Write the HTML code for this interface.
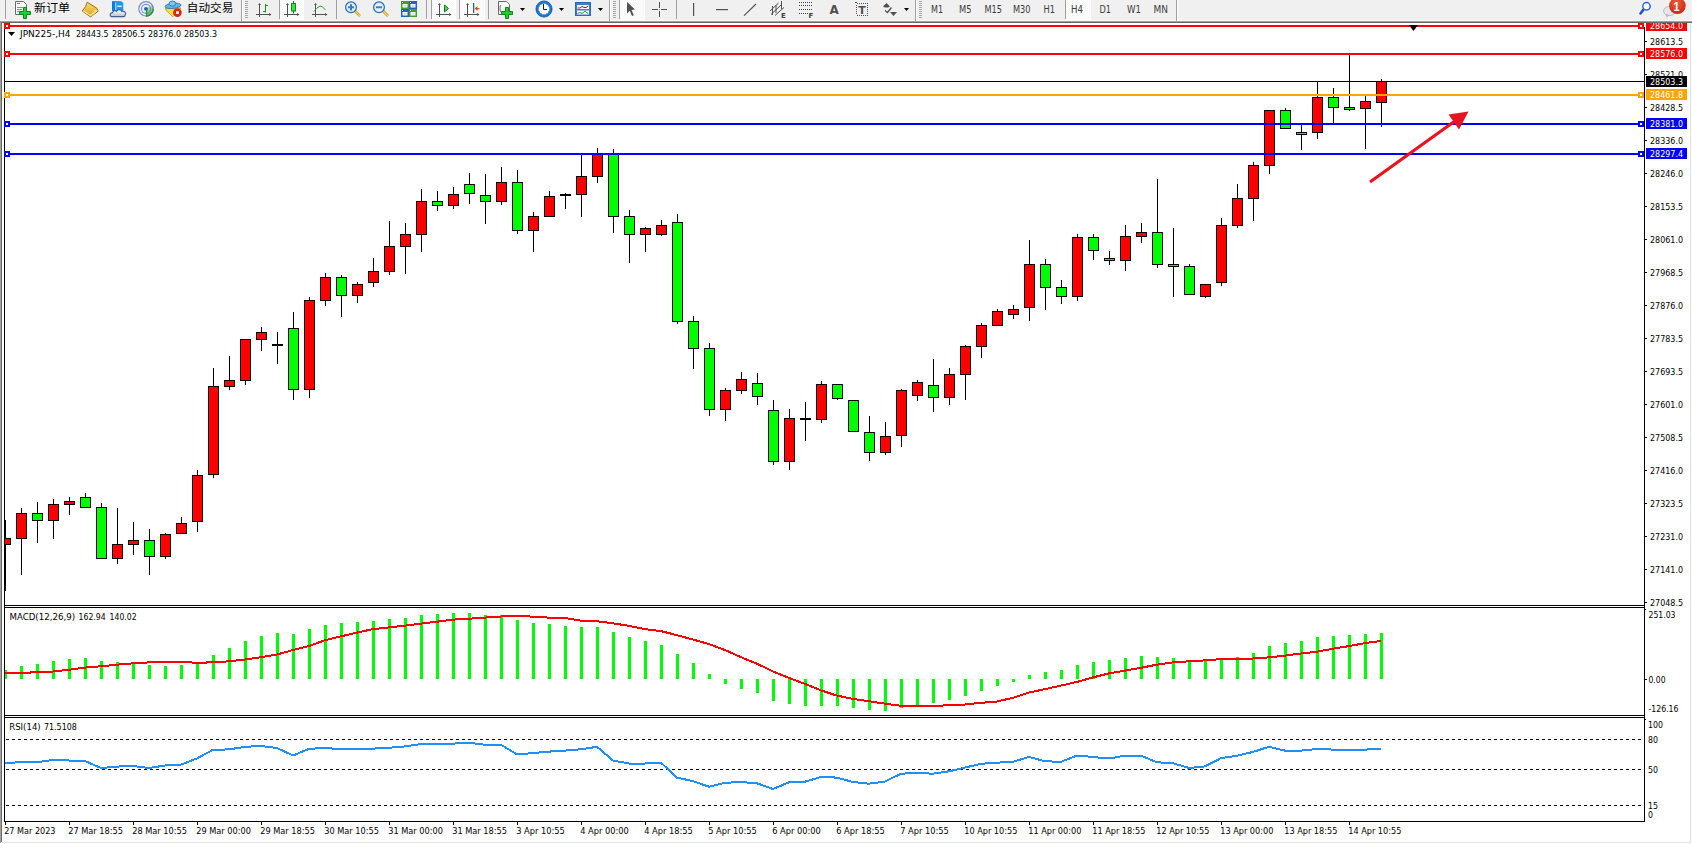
<!DOCTYPE html>
<html><head><meta charset="utf-8"><title>JPN225 H4</title>
<style>html,body{margin:0;padding:0;width:1692px;height:844px;overflow:hidden;background:#f0f0f0}
text{font-family:"DejaVu Sans","Liberation Sans","Noto Sans CJK SC",sans-serif;white-space:pre}</style></head>
<body><svg width="1692" height="844" viewBox="0 0 1692 844" style="display:block"><defs><clipPath id="chartclip"><rect x="0" y="23" width="1692" height="821"/></clipPath></defs>
<rect x="0" y="0" width="1692" height="844" fill="#f0f0f0"/>
<rect x="0" y="20" width="1692" height="1" fill="#f9f9f9"/>
<rect x="0" y="21" width="1692" height="1" fill="#a0a0a0"/>
<rect x="0" y="22" width="1692" height="1" fill="#6a6a6a"/>
<rect x="0" y="23" width="1692" height="821" fill="#fdfdfd"/>
<rect x="0" y="21" width="1" height="822" fill="#a0a0a0"/>
<rect x="1" y="22" width="1" height="820" fill="#6a6a6a"/>
<rect x="2" y="23" width="1688" height="819" fill="#ffffff"/>
<rect x="1690" y="23" width="1" height="820" fill="#e3e3e3"/>
<rect x="2" y="842" width="1689" height="1" fill="#e3e3e3"/>
<rect x="4" y="23" width="1" height="799" fill="#000"/>
<rect x="1644" y="27" width="1" height="795" fill="#000"/>
<rect x="4" y="605" width="1641" height="1" fill="#000"/>
<rect x="4" y="607" width="1641" height="1" fill="#000"/>
<rect x="4" y="715" width="1641" height="1" fill="#000"/>
<rect x="4" y="717" width="1641" height="1" fill="#000"/>
<rect x="4" y="821" width="1641" height="1" fill="#000"/>
<g shape-rendering="crispEdges">
<rect x="5" y="520" width="1" height="71" fill="#000"/>
<rect x="4" y="538" width="7" height="7" fill="#000"/>
<rect x="5" y="539" width="5" height="5" fill="#ff0000"/>
<rect x="21" y="508" width="1" height="67" fill="#000"/>
<rect x="16" y="513" width="11" height="26" fill="#000"/>
<rect x="17" y="514" width="9" height="24" fill="#ff0000"/>
<rect x="37" y="502" width="1" height="41" fill="#000"/>
<rect x="32" y="513" width="11" height="8" fill="#000"/>
<rect x="33" y="514" width="9" height="6" fill="#00ff00"/>
<rect x="53" y="499" width="1" height="40" fill="#000"/>
<rect x="48" y="504" width="11" height="17" fill="#000"/>
<rect x="49" y="505" width="9" height="15" fill="#ff0000"/>
<rect x="69" y="497" width="1" height="18" fill="#000"/>
<rect x="64" y="501" width="11" height="4" fill="#000"/>
<rect x="65" y="502" width="9" height="2" fill="#ff0000"/>
<rect x="85" y="493" width="1" height="14" fill="#000"/>
<rect x="80" y="497" width="11" height="11" fill="#000"/>
<rect x="81" y="498" width="9" height="9" fill="#00ff00"/>
<rect x="101" y="503" width="1" height="55" fill="#000"/>
<rect x="96" y="507" width="11" height="52" fill="#000"/>
<rect x="97" y="508" width="9" height="50" fill="#00ff00"/>
<rect x="117" y="508" width="1" height="56" fill="#000"/>
<rect x="112" y="544" width="11" height="15" fill="#000"/>
<rect x="113" y="545" width="9" height="13" fill="#ff0000"/>
<rect x="133" y="522" width="1" height="33" fill="#000"/>
<rect x="128" y="540" width="11" height="5" fill="#000"/>
<rect x="129" y="541" width="9" height="3" fill="#ff0000"/>
<rect x="149" y="529" width="1" height="46" fill="#000"/>
<rect x="144" y="540" width="11" height="17" fill="#000"/>
<rect x="145" y="541" width="9" height="15" fill="#00ff00"/>
<rect x="165" y="533" width="1" height="26" fill="#000"/>
<rect x="160" y="534" width="11" height="23" fill="#000"/>
<rect x="161" y="535" width="9" height="21" fill="#ff0000"/>
<rect x="181" y="517" width="1" height="17" fill="#000"/>
<rect x="176" y="523" width="11" height="11" fill="#000"/>
<rect x="177" y="524" width="9" height="9" fill="#ff0000"/>
<rect x="197" y="470" width="1" height="62" fill="#000"/>
<rect x="192" y="475" width="11" height="47" fill="#000"/>
<rect x="193" y="476" width="9" height="45" fill="#ff0000"/>
<rect x="213" y="368" width="1" height="110" fill="#000"/>
<rect x="208" y="386" width="11" height="89" fill="#000"/>
<rect x="209" y="387" width="9" height="87" fill="#ff0000"/>
<rect x="229" y="356" width="1" height="34" fill="#000"/>
<rect x="224" y="380" width="11" height="7" fill="#000"/>
<rect x="225" y="381" width="9" height="5" fill="#ff0000"/>
<rect x="245" y="339" width="1" height="46" fill="#000"/>
<rect x="240" y="339" width="11" height="42" fill="#000"/>
<rect x="241" y="340" width="9" height="40" fill="#ff0000"/>
<rect x="261" y="327" width="1" height="24" fill="#000"/>
<rect x="256" y="332" width="11" height="8" fill="#000"/>
<rect x="257" y="333" width="9" height="6" fill="#ff0000"/>
<rect x="277" y="332" width="1" height="32" fill="#000"/>
<rect x="272" y="344" width="11" height="2" fill="#000"/>
<rect x="293" y="312" width="1" height="88" fill="#000"/>
<rect x="288" y="328" width="11" height="62" fill="#000"/>
<rect x="289" y="329" width="9" height="60" fill="#00ff00"/>
<rect x="309" y="297" width="1" height="101" fill="#000"/>
<rect x="304" y="300" width="11" height="90" fill="#000"/>
<rect x="305" y="301" width="9" height="88" fill="#ff0000"/>
<rect x="325" y="273" width="1" height="33" fill="#000"/>
<rect x="320" y="277" width="11" height="24" fill="#000"/>
<rect x="321" y="278" width="9" height="22" fill="#ff0000"/>
<rect x="341" y="275" width="1" height="42" fill="#000"/>
<rect x="336" y="277" width="11" height="19" fill="#000"/>
<rect x="337" y="278" width="9" height="17" fill="#00ff00"/>
<rect x="357" y="282" width="1" height="21" fill="#000"/>
<rect x="352" y="284" width="11" height="12" fill="#000"/>
<rect x="353" y="285" width="9" height="10" fill="#ff0000"/>
<rect x="373" y="258" width="1" height="29" fill="#000"/>
<rect x="368" y="271" width="11" height="12" fill="#000"/>
<rect x="369" y="272" width="9" height="10" fill="#ff0000"/>
<rect x="389" y="221" width="1" height="54" fill="#000"/>
<rect x="384" y="246" width="11" height="26" fill="#000"/>
<rect x="385" y="247" width="9" height="24" fill="#ff0000"/>
<rect x="405" y="223" width="1" height="51" fill="#000"/>
<rect x="400" y="234" width="11" height="13" fill="#000"/>
<rect x="401" y="235" width="9" height="11" fill="#ff0000"/>
<rect x="421" y="189" width="1" height="63" fill="#000"/>
<rect x="416" y="201" width="11" height="34" fill="#000"/>
<rect x="417" y="202" width="9" height="32" fill="#ff0000"/>
<rect x="437" y="191" width="1" height="20" fill="#000"/>
<rect x="432" y="201" width="11" height="5" fill="#000"/>
<rect x="433" y="202" width="9" height="3" fill="#00ff00"/>
<rect x="453" y="187" width="1" height="22" fill="#000"/>
<rect x="448" y="194" width="11" height="12" fill="#000"/>
<rect x="449" y="195" width="9" height="10" fill="#ff0000"/>
<rect x="469" y="173" width="1" height="31" fill="#000"/>
<rect x="464" y="184" width="11" height="10" fill="#000"/>
<rect x="465" y="185" width="9" height="8" fill="#00ff00"/>
<rect x="485" y="174" width="1" height="50" fill="#000"/>
<rect x="480" y="195" width="11" height="7" fill="#000"/>
<rect x="481" y="196" width="9" height="5" fill="#00ff00"/>
<rect x="501" y="167" width="1" height="38" fill="#000"/>
<rect x="496" y="182" width="11" height="20" fill="#000"/>
<rect x="497" y="183" width="9" height="18" fill="#ff0000"/>
<rect x="517" y="170" width="1" height="64" fill="#000"/>
<rect x="512" y="182" width="11" height="49" fill="#000"/>
<rect x="513" y="183" width="9" height="47" fill="#00ff00"/>
<rect x="533" y="212" width="1" height="40" fill="#000"/>
<rect x="528" y="216" width="11" height="15" fill="#000"/>
<rect x="529" y="217" width="9" height="13" fill="#ff0000"/>
<rect x="549" y="191" width="1" height="25" fill="#000"/>
<rect x="544" y="196" width="11" height="21" fill="#000"/>
<rect x="545" y="197" width="9" height="19" fill="#ff0000"/>
<rect x="565" y="193" width="1" height="16" fill="#000"/>
<rect x="560" y="194" width="11" height="2" fill="#000"/>
<rect x="581" y="153" width="1" height="64" fill="#000"/>
<rect x="576" y="176" width="11" height="19" fill="#000"/>
<rect x="577" y="177" width="9" height="17" fill="#ff0000"/>
<rect x="597" y="148" width="1" height="35" fill="#000"/>
<rect x="592" y="153" width="11" height="24" fill="#000"/>
<rect x="593" y="154" width="9" height="22" fill="#ff0000"/>
<rect x="613" y="149" width="1" height="84" fill="#000"/>
<rect x="608" y="153" width="11" height="64" fill="#000"/>
<rect x="609" y="154" width="9" height="62" fill="#00ff00"/>
<rect x="629" y="210" width="1" height="53" fill="#000"/>
<rect x="624" y="216" width="11" height="19" fill="#000"/>
<rect x="625" y="217" width="9" height="17" fill="#00ff00"/>
<rect x="645" y="227" width="1" height="25" fill="#000"/>
<rect x="640" y="228" width="11" height="7" fill="#000"/>
<rect x="641" y="229" width="9" height="5" fill="#ff0000"/>
<rect x="661" y="220" width="1" height="16" fill="#000"/>
<rect x="656" y="225" width="11" height="10" fill="#000"/>
<rect x="657" y="226" width="9" height="8" fill="#ff0000"/>
<rect x="677" y="214" width="1" height="110" fill="#000"/>
<rect x="672" y="222" width="11" height="100" fill="#000"/>
<rect x="673" y="223" width="9" height="98" fill="#00ff00"/>
<rect x="693" y="316" width="1" height="53" fill="#000"/>
<rect x="688" y="321" width="11" height="28" fill="#000"/>
<rect x="689" y="322" width="9" height="26" fill="#00ff00"/>
<rect x="709" y="343" width="1" height="73" fill="#000"/>
<rect x="704" y="348" width="11" height="62" fill="#000"/>
<rect x="705" y="349" width="9" height="60" fill="#00ff00"/>
<rect x="725" y="388" width="1" height="33" fill="#000"/>
<rect x="720" y="390" width="11" height="20" fill="#000"/>
<rect x="721" y="391" width="9" height="18" fill="#ff0000"/>
<rect x="741" y="372" width="1" height="22" fill="#000"/>
<rect x="736" y="379" width="11" height="12" fill="#000"/>
<rect x="737" y="380" width="9" height="10" fill="#ff0000"/>
<rect x="757" y="373" width="1" height="32" fill="#000"/>
<rect x="752" y="383" width="11" height="14" fill="#000"/>
<rect x="753" y="384" width="9" height="12" fill="#00ff00"/>
<rect x="773" y="400" width="1" height="65" fill="#000"/>
<rect x="768" y="410" width="11" height="52" fill="#000"/>
<rect x="769" y="411" width="9" height="50" fill="#00ff00"/>
<rect x="789" y="409" width="1" height="61" fill="#000"/>
<rect x="784" y="418" width="11" height="44" fill="#000"/>
<rect x="785" y="419" width="9" height="42" fill="#ff0000"/>
<rect x="805" y="402" width="1" height="39" fill="#000"/>
<rect x="800" y="418" width="11" height="2" fill="#000"/>
<rect x="821" y="381" width="1" height="42" fill="#000"/>
<rect x="816" y="384" width="11" height="36" fill="#000"/>
<rect x="817" y="385" width="9" height="34" fill="#ff0000"/>
<rect x="837" y="384" width="1" height="16" fill="#000"/>
<rect x="832" y="384" width="11" height="15" fill="#000"/>
<rect x="833" y="385" width="9" height="13" fill="#00ff00"/>
<rect x="853" y="400" width="1" height="31" fill="#000"/>
<rect x="848" y="400" width="11" height="32" fill="#000"/>
<rect x="849" y="401" width="9" height="30" fill="#00ff00"/>
<rect x="869" y="416" width="1" height="45" fill="#000"/>
<rect x="864" y="432" width="11" height="21" fill="#000"/>
<rect x="865" y="433" width="9" height="19" fill="#00ff00"/>
<rect x="885" y="422" width="1" height="33" fill="#000"/>
<rect x="880" y="436" width="11" height="17" fill="#000"/>
<rect x="881" y="437" width="9" height="15" fill="#ff0000"/>
<rect x="901" y="389" width="1" height="58" fill="#000"/>
<rect x="896" y="390" width="11" height="46" fill="#000"/>
<rect x="897" y="391" width="9" height="44" fill="#ff0000"/>
<rect x="917" y="380" width="1" height="21" fill="#000"/>
<rect x="912" y="382" width="11" height="14" fill="#000"/>
<rect x="913" y="383" width="9" height="12" fill="#ff0000"/>
<rect x="933" y="359" width="1" height="53" fill="#000"/>
<rect x="928" y="385" width="11" height="13" fill="#000"/>
<rect x="929" y="386" width="9" height="11" fill="#00ff00"/>
<rect x="949" y="368" width="1" height="37" fill="#000"/>
<rect x="944" y="374" width="11" height="24" fill="#000"/>
<rect x="945" y="375" width="9" height="22" fill="#ff0000"/>
<rect x="965" y="345" width="1" height="55" fill="#000"/>
<rect x="960" y="346" width="11" height="29" fill="#000"/>
<rect x="961" y="347" width="9" height="27" fill="#ff0000"/>
<rect x="981" y="323" width="1" height="35" fill="#000"/>
<rect x="976" y="325" width="11" height="22" fill="#000"/>
<rect x="977" y="326" width="9" height="20" fill="#ff0000"/>
<rect x="997" y="309" width="1" height="16" fill="#000"/>
<rect x="992" y="311" width="11" height="15" fill="#000"/>
<rect x="993" y="312" width="9" height="13" fill="#ff0000"/>
<rect x="1013" y="305" width="1" height="14" fill="#000"/>
<rect x="1008" y="309" width="11" height="6" fill="#000"/>
<rect x="1009" y="310" width="9" height="4" fill="#ff0000"/>
<rect x="1029" y="240" width="1" height="81" fill="#000"/>
<rect x="1024" y="264" width="11" height="44" fill="#000"/>
<rect x="1025" y="265" width="9" height="42" fill="#ff0000"/>
<rect x="1045" y="259" width="1" height="51" fill="#000"/>
<rect x="1040" y="264" width="11" height="24" fill="#000"/>
<rect x="1041" y="265" width="9" height="22" fill="#00ff00"/>
<rect x="1061" y="280" width="1" height="24" fill="#000"/>
<rect x="1056" y="287" width="11" height="10" fill="#000"/>
<rect x="1057" y="288" width="9" height="8" fill="#00ff00"/>
<rect x="1077" y="234" width="1" height="67" fill="#000"/>
<rect x="1072" y="237" width="11" height="60" fill="#000"/>
<rect x="1073" y="238" width="9" height="58" fill="#ff0000"/>
<rect x="1093" y="234" width="1" height="26" fill="#000"/>
<rect x="1088" y="237" width="11" height="14" fill="#000"/>
<rect x="1089" y="238" width="9" height="12" fill="#00ff00"/>
<rect x="1109" y="251" width="1" height="14" fill="#000"/>
<rect x="1104" y="258" width="11" height="3" fill="#000"/>
<rect x="1105" y="259" width="9" height="1" fill="#00ff00"/>
<rect x="1125" y="225" width="1" height="46" fill="#000"/>
<rect x="1120" y="236" width="11" height="25" fill="#000"/>
<rect x="1121" y="237" width="9" height="23" fill="#ff0000"/>
<rect x="1141" y="223" width="1" height="20" fill="#000"/>
<rect x="1136" y="232" width="11" height="5" fill="#000"/>
<rect x="1137" y="233" width="9" height="3" fill="#ff0000"/>
<rect x="1157" y="179" width="1" height="89" fill="#000"/>
<rect x="1152" y="232" width="11" height="33" fill="#000"/>
<rect x="1153" y="233" width="9" height="31" fill="#00ff00"/>
<rect x="1173" y="228" width="1" height="69" fill="#000"/>
<rect x="1168" y="264" width="11" height="3" fill="#000"/>
<rect x="1169" y="265" width="9" height="1" fill="#00ff00"/>
<rect x="1189" y="264" width="1" height="30" fill="#000"/>
<rect x="1184" y="266" width="11" height="29" fill="#000"/>
<rect x="1185" y="267" width="9" height="27" fill="#00ff00"/>
<rect x="1205" y="284" width="1" height="14" fill="#000"/>
<rect x="1200" y="284" width="11" height="13" fill="#000"/>
<rect x="1201" y="285" width="9" height="11" fill="#ff0000"/>
<rect x="1221" y="218" width="1" height="68" fill="#000"/>
<rect x="1216" y="225" width="11" height="58" fill="#000"/>
<rect x="1217" y="226" width="9" height="56" fill="#ff0000"/>
<rect x="1237" y="184" width="1" height="44" fill="#000"/>
<rect x="1232" y="198" width="11" height="28" fill="#000"/>
<rect x="1233" y="199" width="9" height="26" fill="#ff0000"/>
<rect x="1253" y="162" width="1" height="59" fill="#000"/>
<rect x="1248" y="165" width="11" height="34" fill="#000"/>
<rect x="1249" y="166" width="9" height="32" fill="#ff0000"/>
<rect x="1269" y="110" width="1" height="64" fill="#000"/>
<rect x="1264" y="110" width="11" height="56" fill="#000"/>
<rect x="1265" y="111" width="9" height="54" fill="#ff0000"/>
<rect x="1285" y="108" width="1" height="20" fill="#000"/>
<rect x="1280" y="110" width="11" height="19" fill="#000"/>
<rect x="1281" y="111" width="9" height="17" fill="#00ff00"/>
<rect x="1301" y="125" width="1" height="25" fill="#000"/>
<rect x="1296" y="132" width="11" height="3" fill="#000"/>
<rect x="1297" y="133" width="9" height="1" fill="#00ff00"/>
<rect x="1317" y="81" width="1" height="58" fill="#000"/>
<rect x="1312" y="97" width="11" height="36" fill="#000"/>
<rect x="1313" y="98" width="9" height="34" fill="#ff0000"/>
<rect x="1333" y="88" width="1" height="35" fill="#000"/>
<rect x="1328" y="97" width="11" height="11" fill="#000"/>
<rect x="1329" y="98" width="9" height="9" fill="#00ff00"/>
<rect x="1349" y="55" width="1" height="56" fill="#000"/>
<rect x="1344" y="107" width="11" height="3" fill="#000"/>
<rect x="1345" y="108" width="9" height="1" fill="#00ff00"/>
<rect x="1365" y="96" width="1" height="53" fill="#000"/>
<rect x="1360" y="101" width="11" height="8" fill="#000"/>
<rect x="1361" y="102" width="9" height="6" fill="#ff0000"/>
<rect x="1381" y="79" width="1" height="48" fill="#000"/>
<rect x="1376" y="81" width="11" height="22" fill="#000"/>
<rect x="1377" y="82" width="9" height="20" fill="#ff0000"/>
</g>
<rect x="4" y="25" width="1640" height="2" fill="#ff0000"/>
<rect x="4" y="23" width="6" height="6" fill="#ff0000"/>
<rect x="6" y="25" width="2" height="2" fill="#fff"/>
<rect x="1638" y="23" width="6" height="6" fill="#ff0000"/>
<rect x="1640" y="25" width="2" height="2" fill="#fff"/>
<rect x="4" y="53" width="1640" height="2" fill="#ff0000"/>
<rect x="4" y="51" width="6" height="6" fill="#ff0000"/>
<rect x="6" y="53" width="2" height="2" fill="#fff"/>
<rect x="1638" y="51" width="6" height="6" fill="#ff0000"/>
<rect x="1640" y="53" width="2" height="2" fill="#fff"/>
<rect x="5" y="81" width="1639" height="1" fill="#000"/>
<rect x="4" y="94" width="1640" height="2" fill="#ffa500"/>
<rect x="4" y="92" width="6" height="6" fill="#ffa500"/>
<rect x="6" y="94" width="2" height="2" fill="#fff"/>
<rect x="1638" y="92" width="6" height="6" fill="#ffa500"/>
<rect x="1640" y="94" width="2" height="2" fill="#fff"/>
<rect x="4" y="123" width="1640" height="2" fill="#0000ff"/>
<rect x="4" y="121" width="6" height="6" fill="#0000ff"/>
<rect x="6" y="123" width="2" height="2" fill="#fff"/>
<rect x="1638" y="121" width="6" height="6" fill="#0000ff"/>
<rect x="1640" y="123" width="2" height="2" fill="#fff"/>
<rect x="4" y="153" width="1640" height="2" fill="#0000ff"/>
<rect x="4" y="151" width="6" height="6" fill="#0000ff"/>
<rect x="6" y="153" width="2" height="2" fill="#fff"/>
<rect x="1638" y="151" width="6" height="6" fill="#0000ff"/>
<rect x="1640" y="153" width="2" height="2" fill="#fff"/>
<polygon points="1409,25 1418,25 1413.5,31" fill="#000"/>
<line x1="1370" y1="182" x2="1455" y2="121" stroke="#e8141e" stroke-width="3.2"/>
<polygon points="1468.5,111.5 1448.5,114.5 1459,129.5" fill="#e8141e"/>
<polygon points="8,32 15,32 11.5,36" fill="#000"/>
<text x="20" y="37" font-size="9.5" fill="#000" textLength="50.5" lengthAdjust="spacingAndGlyphs">JPN225-,H4</text>
<text x="76" y="37" font-size="9.5" fill="#000" textLength="32.5" lengthAdjust="spacingAndGlyphs">28443.5</text>
<text x="112" y="37" font-size="9.5" fill="#000" textLength="33" lengthAdjust="spacingAndGlyphs">28506.5</text>
<text x="148" y="37" font-size="9.5" fill="#000" textLength="33" lengthAdjust="spacingAndGlyphs">28376.0</text>
<text x="184" y="37" font-size="9.5" fill="#000" textLength="33" lengthAdjust="spacingAndGlyphs">28503.3</text>
<rect x="1645" y="41" width="2" height="1" fill="#000"/>
<text x="1650" y="45" font-size="9.5" fill="#000" textLength="33" lengthAdjust="spacingAndGlyphs">28613.5</text>
<rect x="1645" y="74" width="2" height="1" fill="#000"/>
<text x="1650" y="78" font-size="9.5" fill="#000" textLength="33" lengthAdjust="spacingAndGlyphs">28521.0</text>
<rect x="1645" y="107" width="2" height="1" fill="#000"/>
<text x="1650" y="111" font-size="9.5" fill="#000" textLength="33" lengthAdjust="spacingAndGlyphs">28428.5</text>
<rect x="1645" y="140" width="2" height="1" fill="#000"/>
<text x="1650" y="144" font-size="9.5" fill="#000" textLength="33" lengthAdjust="spacingAndGlyphs">28336.0</text>
<rect x="1645" y="173" width="2" height="1" fill="#000"/>
<text x="1650" y="177" font-size="9.5" fill="#000" textLength="33" lengthAdjust="spacingAndGlyphs">28246.0</text>
<rect x="1645" y="206" width="2" height="1" fill="#000"/>
<text x="1650" y="210" font-size="9.5" fill="#000" textLength="33" lengthAdjust="spacingAndGlyphs">28153.5</text>
<rect x="1645" y="239" width="2" height="1" fill="#000"/>
<text x="1650" y="243" font-size="9.5" fill="#000" textLength="33" lengthAdjust="spacingAndGlyphs">28061.0</text>
<rect x="1645" y="272" width="2" height="1" fill="#000"/>
<text x="1650" y="276" font-size="9.5" fill="#000" textLength="33" lengthAdjust="spacingAndGlyphs">27968.5</text>
<rect x="1645" y="305" width="2" height="1" fill="#000"/>
<text x="1650" y="309" font-size="9.5" fill="#000" textLength="33" lengthAdjust="spacingAndGlyphs">27876.0</text>
<rect x="1645" y="338" width="2" height="1" fill="#000"/>
<text x="1650" y="342" font-size="9.5" fill="#000" textLength="33" lengthAdjust="spacingAndGlyphs">27783.5</text>
<rect x="1645" y="371" width="2" height="1" fill="#000"/>
<text x="1650" y="375" font-size="9.5" fill="#000" textLength="33" lengthAdjust="spacingAndGlyphs">27693.5</text>
<rect x="1645" y="404" width="2" height="1" fill="#000"/>
<text x="1650" y="408" font-size="9.5" fill="#000" textLength="33" lengthAdjust="spacingAndGlyphs">27601.0</text>
<rect x="1645" y="437" width="2" height="1" fill="#000"/>
<text x="1650" y="441" font-size="9.5" fill="#000" textLength="33" lengthAdjust="spacingAndGlyphs">27508.5</text>
<rect x="1645" y="470" width="2" height="1" fill="#000"/>
<text x="1650" y="474" font-size="9.5" fill="#000" textLength="33" lengthAdjust="spacingAndGlyphs">27416.0</text>
<rect x="1645" y="503" width="2" height="1" fill="#000"/>
<text x="1650" y="507" font-size="9.5" fill="#000" textLength="33" lengthAdjust="spacingAndGlyphs">27323.5</text>
<rect x="1645" y="536" width="2" height="1" fill="#000"/>
<text x="1650" y="540" font-size="9.5" fill="#000" textLength="33" lengthAdjust="spacingAndGlyphs">27231.0</text>
<rect x="1645" y="569" width="2" height="1" fill="#000"/>
<text x="1650" y="573" font-size="9.5" fill="#000" textLength="33" lengthAdjust="spacingAndGlyphs">27141.0</text>
<rect x="1645" y="602" width="2" height="1" fill="#000"/>
<text x="1650" y="606" font-size="9.5" fill="#000" textLength="33" lengthAdjust="spacingAndGlyphs">27048.5</text>
<g clip-path="url(#chartclip)">
<rect x="1646" y="23" width="41" height="8" fill="#ff0000"/>
<text x="1650" y="29" font-size="9.5" fill="#fff" textLength="33" lengthAdjust="spacingAndGlyphs">28654.0</text>
</g>
<g clip-path="url(#chartclip)">
<rect x="1646" y="48" width="41" height="11" fill="#ff0000"/>
<text x="1650" y="57" font-size="9.5" fill="#fff" textLength="33" lengthAdjust="spacingAndGlyphs">28576.0</text>
</g>
<g clip-path="url(#chartclip)">
<rect x="1646" y="76" width="41" height="11" fill="#000000"/>
<text x="1650" y="85" font-size="9.5" fill="#fff" textLength="33" lengthAdjust="spacingAndGlyphs">28503.3</text>
</g>
<g clip-path="url(#chartclip)">
<rect x="1646" y="89" width="41" height="11" fill="#ffa500"/>
<text x="1650" y="98" font-size="9.5" fill="#fff" textLength="33" lengthAdjust="spacingAndGlyphs">28461.8</text>
</g>
<g clip-path="url(#chartclip)">
<rect x="1646" y="118" width="41" height="11" fill="#0000ff"/>
<text x="1650" y="127" font-size="9.5" fill="#fff" textLength="33" lengthAdjust="spacingAndGlyphs">28381.0</text>
</g>
<g clip-path="url(#chartclip)">
<rect x="1646" y="148" width="41" height="11" fill="#0000ff"/>
<text x="1650" y="157" font-size="9.5" fill="#fff" textLength="33" lengthAdjust="spacingAndGlyphs">28297.4</text>
</g>
<text x="9.5" y="620.3" font-size="9.5" fill="#000" textLength="65.5" lengthAdjust="spacingAndGlyphs">MACD(12,26,9)</text>
<text x="78.6" y="620.3" font-size="9.5" fill="#000" textLength="27" lengthAdjust="spacingAndGlyphs">162.94</text>
<text x="109.6" y="620.3" font-size="9.5" fill="#000" textLength="27" lengthAdjust="spacingAndGlyphs">140.02</text>
<g shape-rendering="crispEdges">
<rect x="5" y="670" width="2" height="9" fill="#00ff00"/>
<rect x="20" y="666" width="3" height="13" fill="#00ff00"/>
<rect x="36" y="664" width="3" height="15" fill="#00ff00"/>
<rect x="52" y="661" width="3" height="18" fill="#00ff00"/>
<rect x="68" y="659" width="3" height="20" fill="#00ff00"/>
<rect x="84" y="658" width="3" height="21" fill="#00ff00"/>
<rect x="100" y="661" width="3" height="18" fill="#00ff00"/>
<rect x="116" y="662" width="3" height="17" fill="#00ff00"/>
<rect x="132" y="663" width="3" height="16" fill="#00ff00"/>
<rect x="148" y="665" width="3" height="14" fill="#00ff00"/>
<rect x="164" y="666" width="3" height="13" fill="#00ff00"/>
<rect x="180" y="665" width="3" height="14" fill="#00ff00"/>
<rect x="196" y="664" width="3" height="15" fill="#00ff00"/>
<rect x="212" y="655" width="3" height="24" fill="#00ff00"/>
<rect x="228" y="648" width="3" height="31" fill="#00ff00"/>
<rect x="244" y="641" width="3" height="38" fill="#00ff00"/>
<rect x="260" y="636" width="3" height="43" fill="#00ff00"/>
<rect x="276" y="633" width="3" height="46" fill="#00ff00"/>
<rect x="292" y="634" width="3" height="45" fill="#00ff00"/>
<rect x="308" y="629" width="3" height="50" fill="#00ff00"/>
<rect x="324" y="625" width="3" height="54" fill="#00ff00"/>
<rect x="340" y="623" width="3" height="56" fill="#00ff00"/>
<rect x="356" y="622" width="3" height="57" fill="#00ff00"/>
<rect x="372" y="621" width="3" height="58" fill="#00ff00"/>
<rect x="388" y="619" width="3" height="60" fill="#00ff00"/>
<rect x="404" y="618" width="3" height="61" fill="#00ff00"/>
<rect x="420" y="615" width="3" height="64" fill="#00ff00"/>
<rect x="436" y="614" width="3" height="65" fill="#00ff00"/>
<rect x="452" y="613" width="3" height="66" fill="#00ff00"/>
<rect x="468" y="613" width="3" height="66" fill="#00ff00"/>
<rect x="484" y="615" width="3" height="64" fill="#00ff00"/>
<rect x="500" y="615" width="3" height="64" fill="#00ff00"/>
<rect x="516" y="620" width="3" height="59" fill="#00ff00"/>
<rect x="532" y="623" width="3" height="56" fill="#00ff00"/>
<rect x="548" y="624" width="3" height="55" fill="#00ff00"/>
<rect x="564" y="626" width="3" height="53" fill="#00ff00"/>
<rect x="580" y="627" width="3" height="52" fill="#00ff00"/>
<rect x="596" y="627" width="3" height="52" fill="#00ff00"/>
<rect x="612" y="632" width="3" height="47" fill="#00ff00"/>
<rect x="628" y="637" width="3" height="42" fill="#00ff00"/>
<rect x="644" y="641" width="3" height="38" fill="#00ff00"/>
<rect x="660" y="645" width="3" height="34" fill="#00ff00"/>
<rect x="676" y="654" width="3" height="25" fill="#00ff00"/>
<rect x="692" y="663" width="3" height="16" fill="#00ff00"/>
<rect x="708" y="674" width="3" height="5" fill="#00ff00"/>
<rect x="724" y="679" width="3" height="5" fill="#00ff00"/>
<rect x="740" y="679" width="3" height="10" fill="#00ff00"/>
<rect x="756" y="679" width="3" height="14" fill="#00ff00"/>
<rect x="772" y="679" width="3" height="22" fill="#00ff00"/>
<rect x="788" y="679" width="3" height="25" fill="#00ff00"/>
<rect x="804" y="679" width="3" height="27" fill="#00ff00"/>
<rect x="820" y="679" width="3" height="27" fill="#00ff00"/>
<rect x="836" y="679" width="3" height="27" fill="#00ff00"/>
<rect x="852" y="679" width="3" height="29" fill="#00ff00"/>
<rect x="868" y="679" width="3" height="31" fill="#00ff00"/>
<rect x="884" y="679" width="3" height="32" fill="#00ff00"/>
<rect x="900" y="679" width="3" height="29" fill="#00ff00"/>
<rect x="916" y="679" width="3" height="27" fill="#00ff00"/>
<rect x="932" y="679" width="3" height="24" fill="#00ff00"/>
<rect x="948" y="679" width="3" height="21" fill="#00ff00"/>
<rect x="964" y="679" width="3" height="17" fill="#00ff00"/>
<rect x="980" y="679" width="3" height="12" fill="#00ff00"/>
<rect x="996" y="679" width="3" height="7" fill="#00ff00"/>
<rect x="1012" y="679" width="3" height="3" fill="#00ff00"/>
<rect x="1028" y="675" width="3" height="4" fill="#00ff00"/>
<rect x="1044" y="672" width="3" height="7" fill="#00ff00"/>
<rect x="1060" y="670" width="3" height="9" fill="#00ff00"/>
<rect x="1076" y="665" width="3" height="14" fill="#00ff00"/>
<rect x="1092" y="662" width="3" height="17" fill="#00ff00"/>
<rect x="1108" y="660" width="3" height="19" fill="#00ff00"/>
<rect x="1124" y="658" width="3" height="21" fill="#00ff00"/>
<rect x="1140" y="656" width="3" height="23" fill="#00ff00"/>
<rect x="1156" y="657" width="3" height="22" fill="#00ff00"/>
<rect x="1172" y="658" width="3" height="21" fill="#00ff00"/>
<rect x="1188" y="661" width="3" height="18" fill="#00ff00"/>
<rect x="1204" y="661" width="3" height="18" fill="#00ff00"/>
<rect x="1220" y="660" width="3" height="19" fill="#00ff00"/>
<rect x="1236" y="657" width="3" height="22" fill="#00ff00"/>
<rect x="1252" y="653" width="3" height="26" fill="#00ff00"/>
<rect x="1268" y="646" width="3" height="33" fill="#00ff00"/>
<rect x="1284" y="643" width="3" height="36" fill="#00ff00"/>
<rect x="1300" y="641" width="3" height="38" fill="#00ff00"/>
<rect x="1316" y="637" width="3" height="42" fill="#00ff00"/>
<rect x="1332" y="636" width="3" height="43" fill="#00ff00"/>
<rect x="1348" y="635" width="3" height="44" fill="#00ff00"/>
<rect x="1364" y="634" width="3" height="45" fill="#00ff00"/>
<rect x="1380" y="633" width="3" height="46" fill="#00ff00"/>
<polyline points="5,672.8 21,672.8 37,672.3 53,671.5 69,669.8 85,667.6 101,666.3 117,664.7 133,663.3 149,662.4 165,661.8 181,661.8 197,662.8 213,662.3 229,661.3 245,659.5 261,657.2 277,654.5 293,650 309,646 325,640.2 341,636.3 357,632.6 373,629.1 389,627.4 405,625.6 421,623.6 437,621.7 453,619.6 469,618.7 485,617.6 501,616.5 517,615.8 533,616.7 549,617.6 565,618 581,620.6 597,621.3 613,623.3 629,625.9 645,629.1 661,631.1 677,635.2 693,639.5 709,644.1 725,650 741,657.2 757,663.7 773,671.5 789,678 805,683.9 821,690.4 837,695.6 853,698.9 869,701.2 885,703.7 901,705.7 917,705.7 933,705.7 949,705.4 965,704.5 981,702.8 997,701.5 1013,697.8 1029,692.6 1045,689.1 1061,685.6 1077,681.9 1093,677.4 1109,673.4 1125,670.6 1141,667.8 1157,664.6 1173,662.4 1189,661.3 1205,660.4 1221,659.1 1237,658.5 1253,658.5 1269,657.4 1285,655.6 1301,653.5 1317,651.7 1333,648.7 1349,646.1 1365,643.1 1381,640.9" fill="none" stroke="#ff0000" stroke-width="2"/>
</g>
<rect x="1645" y="609" width="1" height="1" fill="#000"/>
<rect x="1645" y="679" width="2" height="1" fill="#000"/>
<text x="1648.5" y="618" font-size="9.5" fill="#000" textLength="27" lengthAdjust="spacingAndGlyphs">251.03</text>
<text x="1648.5" y="683" font-size="9.5" fill="#000" textLength="17" lengthAdjust="spacingAndGlyphs">0.00</text>
<text x="1648.5" y="712" font-size="9.5" fill="#000" textLength="30" lengthAdjust="spacingAndGlyphs">-126.16</text>
<text x="9.2" y="730.2" font-size="9.5" fill="#000" textLength="31.5" lengthAdjust="spacingAndGlyphs">RSI(14)</text>
<text x="44" y="730.2" font-size="9.5" fill="#000" textLength="32.8" lengthAdjust="spacingAndGlyphs">71.5108</text>
<line x1="6" y1="739.5" x2="1642" y2="739.5" stroke="#000" stroke-width="1" stroke-dasharray="3,3"/>
<line x1="6" y1="769.5" x2="1642" y2="769.5" stroke="#000" stroke-width="1" stroke-dasharray="3,3"/>
<line x1="6" y1="805.5" x2="1642" y2="805.5" stroke="#000" stroke-width="1" stroke-dasharray="3,3"/>
<g shape-rendering="crispEdges"><polyline points="5,763 21,762.2 37,762.2 53,760 69,760.5 85,761 101,768 117,766.6 133,766 149,768 165,765.5 181,764.6 197,758.4 213,749.8 229,749.4 245,746.8 261,746 277,748 293,755.5 309,748.9 325,747.8 341,749.4 357,748.9 373,748.6 389,747.8 405,746.4 421,744 437,744 453,743.6 469,742.8 485,744.8 501,744.8 517,754.4 533,753.1 549,751.6 565,750.6 581,749.3 597,746.8 613,760.5 629,763.5 645,763.5 661,762.7 677,777.6 693,781.2 709,786.7 725,782.8 741,782 757,783.3 773,789 789,782.3 805,781.7 821,777 837,777.6 853,782 869,783.7 885,781.5 901,773.7 917,772.9 933,773.7 949,771.3 965,767.6 981,763.8 997,762.7 1013,761.8 1029,756.9 1045,761.3 1061,761.8 1077,755.5 1093,757 1109,758.5 1125,755.7 1141,755.7 1157,762.3 1173,763.2 1189,768 1205,766.4 1221,758.1 1237,755.7 1253,751.9 1269,746.8 1285,750.6 1301,750.6 1317,749 1333,749.6 1349,749.6 1365,749.6 1381,748.7" fill="none" stroke="#1e90ff" stroke-width="2"/></g>
<rect x="1645" y="719" width="1" height="1" fill="#000"/>
<text x="1648" y="728" font-size="9.5" fill="#000" textLength="15" lengthAdjust="spacingAndGlyphs">100</text>
<text x="1648" y="743" font-size="9.5" fill="#000" textLength="10" lengthAdjust="spacingAndGlyphs">80</text>
<text x="1648" y="773" font-size="9.5" fill="#000" textLength="10" lengthAdjust="spacingAndGlyphs">50</text>
<text x="1648" y="809" font-size="9.5" fill="#000" textLength="10" lengthAdjust="spacingAndGlyphs">15</text>
<text x="1648" y="818" font-size="9.5" fill="#000" textLength="5" lengthAdjust="spacingAndGlyphs">0</text>
<rect x="5" y="822" width="1" height="3" fill="#000"/>
<text x="4.2" y="834" font-size="9.5" fill="#000" textLength="51.3" lengthAdjust="spacingAndGlyphs">27 Mar 2023</text>
<rect x="69" y="822" width="1" height="3" fill="#000"/>
<text x="68.2" y="834" font-size="9.5" fill="#000" textLength="54.8" lengthAdjust="spacingAndGlyphs">27 Mar 18:55</text>
<rect x="133" y="822" width="1" height="3" fill="#000"/>
<text x="132.2" y="834" font-size="9.5" fill="#000" textLength="54.8" lengthAdjust="spacingAndGlyphs">28 Mar 10:55</text>
<rect x="197" y="822" width="1" height="3" fill="#000"/>
<text x="196.2" y="834" font-size="9.5" fill="#000" textLength="54.8" lengthAdjust="spacingAndGlyphs">29 Mar 00:00</text>
<rect x="261" y="822" width="1" height="3" fill="#000"/>
<text x="260.2" y="834" font-size="9.5" fill="#000" textLength="54.8" lengthAdjust="spacingAndGlyphs">29 Mar 18:55</text>
<rect x="325" y="822" width="1" height="3" fill="#000"/>
<text x="324.2" y="834" font-size="9.5" fill="#000" textLength="54.8" lengthAdjust="spacingAndGlyphs">30 Mar 10:55</text>
<rect x="389" y="822" width="1" height="3" fill="#000"/>
<text x="388.2" y="834" font-size="9.5" fill="#000" textLength="54.8" lengthAdjust="spacingAndGlyphs">31 Mar 00:00</text>
<rect x="453" y="822" width="1" height="3" fill="#000"/>
<text x="452.2" y="834" font-size="9.5" fill="#000" textLength="54.8" lengthAdjust="spacingAndGlyphs">31 Mar 18:55</text>
<rect x="517" y="822" width="1" height="3" fill="#000"/>
<text x="516.2" y="834" font-size="9.5" fill="#000" textLength="48.7" lengthAdjust="spacingAndGlyphs">3 Apr 10:55</text>
<rect x="581" y="822" width="1" height="3" fill="#000"/>
<text x="580.2" y="834" font-size="9.5" fill="#000" textLength="48.7" lengthAdjust="spacingAndGlyphs">4 Apr 00:00</text>
<rect x="645" y="822" width="1" height="3" fill="#000"/>
<text x="644.2" y="834" font-size="9.5" fill="#000" textLength="48.7" lengthAdjust="spacingAndGlyphs">4 Apr 18:55</text>
<rect x="709" y="822" width="1" height="3" fill="#000"/>
<text x="708.2" y="834" font-size="9.5" fill="#000" textLength="48.7" lengthAdjust="spacingAndGlyphs">5 Apr 10:55</text>
<rect x="773" y="822" width="1" height="3" fill="#000"/>
<text x="772.2" y="834" font-size="9.5" fill="#000" textLength="48.7" lengthAdjust="spacingAndGlyphs">6 Apr 00:00</text>
<rect x="837" y="822" width="1" height="3" fill="#000"/>
<text x="836.2" y="834" font-size="9.5" fill="#000" textLength="48.7" lengthAdjust="spacingAndGlyphs">6 Apr 18:55</text>
<rect x="901" y="822" width="1" height="3" fill="#000"/>
<text x="900.2" y="834" font-size="9.5" fill="#000" textLength="48.7" lengthAdjust="spacingAndGlyphs">7 Apr 10:55</text>
<rect x="965" y="822" width="1" height="3" fill="#000"/>
<text x="964.2" y="834" font-size="9.5" fill="#000" textLength="53.2" lengthAdjust="spacingAndGlyphs">10 Apr 10:55</text>
<rect x="1029" y="822" width="1" height="3" fill="#000"/>
<text x="1028.2" y="834" font-size="9.5" fill="#000" textLength="53.2" lengthAdjust="spacingAndGlyphs">11 Apr 00:00</text>
<rect x="1093" y="822" width="1" height="3" fill="#000"/>
<text x="1092.2" y="834" font-size="9.5" fill="#000" textLength="53.2" lengthAdjust="spacingAndGlyphs">11 Apr 18:55</text>
<rect x="1157" y="822" width="1" height="3" fill="#000"/>
<text x="1156.2" y="834" font-size="9.5" fill="#000" textLength="53.2" lengthAdjust="spacingAndGlyphs">12 Apr 10:55</text>
<rect x="1221" y="822" width="1" height="3" fill="#000"/>
<text x="1220.2" y="834" font-size="9.5" fill="#000" textLength="53.2" lengthAdjust="spacingAndGlyphs">13 Apr 00:00</text>
<rect x="1285" y="822" width="1" height="3" fill="#000"/>
<text x="1284.2" y="834" font-size="9.5" fill="#000" textLength="53.2" lengthAdjust="spacingAndGlyphs">13 Apr 18:55</text>
<rect x="1349" y="822" width="1" height="3" fill="#000"/>
<text x="1348.2" y="834" font-size="9.5" fill="#000" textLength="53.2" lengthAdjust="spacingAndGlyphs">14 Apr 10:55</text>
<defs><pattern id="chk" width="2" height="2" patternUnits="userSpaceOnUse"><rect width="2" height="2" fill="#f7f7f7"/><rect width="1" height="1" fill="#ffffff"/><rect x="1" y="1" width="1" height="1" fill="#ffffff"/></pattern><linearGradient id="gold" x1="0" y1="0" x2="0" y2="1"><stop offset="0" stop-color="#f8e070"/><stop offset="1" stop-color="#d8a018"/></linearGradient><linearGradient id="blu" x1="0" y1="0" x2="0" y2="1"><stop offset="0" stop-color="#40a8f0"/><stop offset="1" stop-color="#0868d0"/></linearGradient><linearGradient id="cloud" x1="0" y1="0" x2="0" y2="1"><stop offset="0" stop-color="#ffffff"/><stop offset="1" stop-color="#b4c2d8"/></linearGradient><linearGradient id="sweep" x1="0" y1="0" x2="0.3" y2="1"><stop offset="0" stop-color="#e0f0e0"/><stop offset="1" stop-color="#58b058"/></linearGradient><radialGradient id="lens"><stop offset="0" stop-color="#ffffff"/><stop offset="1" stop-color="#c8e4f8"/></radialGradient><radialGradient id="badge" cx="0.45" cy="0.35" r="0.7"><stop offset="0" stop-color="#f06040"/><stop offset="1" stop-color="#c82010"/></radialGradient></defs>
<rect x="5" y="0" width="1" height="19" fill="#a0a0a0"/>
<path d="M15.5,1.5 h8 l3,3 v10 h-11 z" fill="#fafafa" stroke="#6a6a6a" stroke-width="1"/>
<rect x="17" y="3" width="3" height="1" fill="#808080"/>
<rect x="17" y="7" width="6" height="1" fill="#909090"/>
<rect x="17" y="9" width="5" height="1" fill="#909090"/>
<rect x="17" y="11" width="3" height="1" fill="#909090"/>
<path d="M23.5,7.5 h3 v4 h4 v3 h-4 v4 h-3 v-4 h-4 v-3 h4 z" fill="#20d030" stroke="#108818" stroke-width="1"/>
<text x="34" y="12.4" font-size="11.6" fill="#000" style="font-family:'Liberation Sans','Noto Sans CJK SC',sans-serif" textLength="36.2" lengthAdjust="spacingAndGlyphs">新订单</text>
<path d="M87.2,2.2 L96.8,8.2 L98.2,11.2 L90.6,16.9 L82.2,11 L85.6,6.6 Z" fill="url(#gold)" stroke="#a8680c" stroke-width="1"/>
<path d="M83.2,10.8 L90.4,15.6 L96.6,9.8" fill="none" stroke="#f8e8a0" stroke-width="1.2"/>
<path d="M91.5,15.8 L97.4,10.6" fill="none" stroke="#e8dca8" stroke-width="1"/>
<polygon points="112,1 121.5,1.6 123.3,3 123.3,11 112,11" fill="#1a9af2"/>
<rect x="112" y="1.5" width="3.5" height="9.5" fill="#0a7ce2"/>
<rect x="115.3" y="2.6" width="0.9" height="8" fill="#d8f0ff"/>
<rect x="112.3" y="1.2" width="9" height="0.8" fill="#3a8ae0"/>
<rect x="117.2" y="5.6" width="4.6" height="1.3" fill="#e8f6ff"/>
<path d="M111.2,16.6 C109.6,16.2 109.8,12.6 112.6,12.6 C113,10.6 115.6,10.2 116.6,11.2 C117.4,9.2 121,9 121.8,11.4 C124.6,10.6 126.6,13 125.2,15.2 C125,16.4 124.2,16.6 123.6,16.6 Z" fill="url(#cloud)" stroke="#3e5c92" stroke-width="1.1"/>
<path d="M146,8.8 L152.5,4.3 A7.9,7.9 0 0 1 146,16.7 Z" fill="url(#sweep)"/>
<circle cx="146" cy="8.8" r="7.2" fill="none" stroke="#4a74cc" stroke-width="1.2" stroke-opacity="0.75"/>
<circle cx="146" cy="8.8" r="4.5" fill="none" stroke="#4a74cc" stroke-width="1.2" stroke-opacity="0.7"/>
<path d="M153.2,8.8 A7.2,7.2 0 0 1 146,16" fill="none" stroke="#2c8c40" stroke-width="1.2"/>
<circle cx="146" cy="8.8" r="1.9" fill="#2454c8"/>
<rect x="145.9" y="9" width="1.2" height="7.8" fill="#18a018"/>
<polygon points="165.5,8 181,8 176.5,13 172.8,16.8 166,10.2" fill="#f4dc50" stroke="#c89a18" stroke-width="0.9"/>
<ellipse cx="173" cy="5.8" rx="8" ry="2.6" fill="#62b4e4" stroke="#2a7ab0" stroke-width="0.9" transform="rotate(-6 173 5.8)"/>
<ellipse cx="172.4" cy="3.6" rx="3.4" ry="2.6" fill="#7cc4ec" stroke="#2a7ab0" stroke-width="0.9"/>
<circle cx="177.4" cy="12.6" r="4.3" fill="#d42810"/>
<rect x="176.1" y="11.2" width="2.8" height="2.8" fill="#ffffff"/>
<text x="186.8" y="12.4" font-size="11.6" fill="#000" style="font-family:'Liberation Sans','Noto Sans CJK SC',sans-serif" textLength="46.5" lengthAdjust="spacingAndGlyphs">自动交易</text>
<rect x="241" y="0" width="1" height="21" fill="#a0a0a0"/>
<rect x="242" y="0" width="1" height="21" fill="#ffffff"/>
<rect x="245" y="1" width="3" height="1" fill="#a8a8a8"/>
<rect x="245" y="3" width="3" height="1" fill="#a8a8a8"/>
<rect x="245" y="5" width="3" height="1" fill="#a8a8a8"/>
<rect x="245" y="7" width="3" height="1" fill="#a8a8a8"/>
<rect x="245" y="9" width="3" height="1" fill="#a8a8a8"/>
<rect x="245" y="11" width="3" height="1" fill="#a8a8a8"/>
<rect x="245" y="13" width="3" height="1" fill="#a8a8a8"/>
<rect x="245" y="15" width="3" height="1" fill="#a8a8a8"/>
<rect x="245" y="17" width="3" height="1" fill="#a8a8a8"/>
<g stroke="#505050" stroke-width="1" fill="none"><line x1="259.5" y1="4" x2="259.5" y2="17"/><line x1="256" y1="14.5" x2="270" y2="14.5"/></g>
<polygon points="258,5 261,5 259.5,3" fill="#505050"/>
<polygon points="269,13 269,16 271.5,14.5" fill="#505050"/>
<g stroke="#10a010" stroke-width="1"><line x1="265.5" y1="4" x2="265.5" y2="12.5"/><line x1="265" y1="5.5" x2="268" y2="5.5"/><line x1="263" y1="11.5" x2="266" y2="11.5"/></g>
<rect x="279" y="0" width="1" height="19" fill="#a0a0a0"/>
<rect x="280" y="0" width="23" height="19" fill="url(#chk)"/>
<rect x="280" y="19" width="24" height="1" fill="#ffffff"/>
<rect x="303" y="0" width="1" height="19" fill="#ffffff"/>
<g stroke="#505050" stroke-width="1" fill="none"><line x1="287.5" y1="4" x2="287.5" y2="17"/><line x1="284" y1="14.5" x2="298" y2="14.5"/></g>
<polygon points="286,5 289,5 287.5,3" fill="#505050"/>
<polygon points="297,13 297,16 299.5,14.5" fill="#505050"/>
<rect x="293" y="1" width="1" height="12.5" fill="#109010"/>
<rect x="291.5" y="3.5" width="4" height="7.5" fill="#40e040" stroke="#109010" stroke-width="1"/>
<g stroke="#505050" stroke-width="1" fill="none"><line x1="315.5" y1="4" x2="315.5" y2="17"/><line x1="312" y1="14.5" x2="326" y2="14.5"/></g>
<polygon points="314,5 317,5 315.5,3" fill="#505050"/>
<polygon points="325,13 325,16 327.5,14.5" fill="#505050"/>
<path d="M314,11.5 Q316,8 320,6 Q322,5.5 325.5,10" fill="none" stroke="#30a030" stroke-width="1"/>
<rect x="336" y="0" width="1" height="19" fill="#a0a0a0"/>
<line x1="355" y1="11" x2="360" y2="16" stroke="#c89818" stroke-width="2.6"/>
<line x1="355" y1="11" x2="360" y2="16" stroke="#f0d860" stroke-width="1.2"/>
<circle cx="351" cy="7.3" r="5.4" fill="url(#lens)" stroke="#2a6cc0" stroke-width="1.2"/>
<rect x="348" y="6.3" width="6" height="2" fill="#3c7cb0"/>
<rect x="350" y="4.2" width="2" height="6.2" fill="#3c7cb0"/>
<line x1="383" y1="11" x2="388" y2="16" stroke="#c89818" stroke-width="2.6"/>
<line x1="383" y1="11" x2="388" y2="16" stroke="#f0d860" stroke-width="1.2"/>
<circle cx="379" cy="7.3" r="5.4" fill="url(#lens)" stroke="#2a6cc0" stroke-width="1.2"/>
<rect x="376" y="6.3" width="6" height="2" fill="#3c7cb0"/>
<rect x="401" y="1" width="8" height="8" fill="#40a020"/>
<rect x="402.5" y="4" width="5" height="3.5" fill="#ffffff"/>
<rect x="403.5" y="5.5" width="3" height="0.8" fill="#a0d090"/>
<rect x="402" y="2" width="1" height="1" fill="#e0f0ff"/>
<rect x="409" y="1" width="8" height="8" fill="#2060d0"/>
<rect x="410.5" y="4" width="5" height="3.5" fill="#ffffff"/>
<rect x="411.5" y="5.5" width="3" height="0.8" fill="#90a8e0"/>
<rect x="410" y="2" width="1" height="1" fill="#e0f0ff"/>
<rect x="401" y="9" width="8" height="8" fill="#2060d0"/>
<rect x="402.5" y="12" width="5" height="3.5" fill="#ffffff"/>
<rect x="403.5" y="13.5" width="3" height="0.8" fill="#90a8e0"/>
<rect x="402" y="10" width="1" height="1" fill="#e0f0ff"/>
<rect x="409" y="9" width="8" height="8" fill="#40a020"/>
<rect x="410.5" y="12" width="5" height="3.5" fill="#ffffff"/>
<rect x="411.5" y="13.5" width="3" height="0.8" fill="#a0d090"/>
<rect x="410" y="10" width="1" height="1" fill="#e0f0ff"/>
<rect x="426" y="0" width="1" height="19" fill="#a0a0a0"/>
<rect x="431" y="0" width="1" height="19" fill="#a0a0a0"/>
<rect x="432" y="0" width="23" height="19" fill="url(#chk)"/>
<rect x="432" y="19" width="24" height="1" fill="#ffffff"/>
<rect x="455" y="0" width="1" height="19" fill="#ffffff"/>
<g stroke="#505050" stroke-width="1" fill="none"><line x1="439.5" y1="4" x2="439.5" y2="17"/><line x1="436" y1="14.5" x2="450" y2="14.5"/></g>
<polygon points="438,5 441,5 439.5,3" fill="#505050"/>
<polygon points="449,13 449,16 451.5,14.5" fill="#505050"/>
<polygon points="444.5,5 448.5,8.5 444.5,12" fill="#50d050" stroke="#108010" stroke-width="1"/>
<rect x="459" y="0" width="1" height="19" fill="#a0a0a0"/>
<rect x="460" y="0" width="24" height="19" fill="url(#chk)"/>
<rect x="460" y="19" width="25" height="1" fill="#ffffff"/>
<rect x="484" y="0" width="1" height="19" fill="#ffffff"/>
<g stroke="#505050" stroke-width="1" fill="none"><line x1="467.5" y1="4" x2="467.5" y2="17"/><line x1="464" y1="14.5" x2="478" y2="14.5"/></g>
<polygon points="466,5 469,5 467.5,3" fill="#505050"/>
<polygon points="477,13 477,16 479.5,14.5" fill="#505050"/>
<rect x="473" y="3" width="1.3" height="10" fill="#1070b0"/>
<polygon points="474.5,8.5 477.5,6 477.5,11" fill="#e05010"/>
<rect x="476" y="8" width="3.5" height="1.3" fill="#e05010"/>
<rect x="488" y="0" width="1" height="19" fill="#a0a0a0"/>
<path d="M498.5,1.5 h8 l3,3 v10 h-11 z" fill="#fafafa" stroke="#6a6a6a" stroke-width="1"/>
<path d="M501,5 q-1,1 -1,3 v2 q0,1 1,2" fill="none" stroke="#505040" stroke-width="0.8"/>
<path d="M505.5,7.5 h3 v4 h4 v3 h-4 v4 h-3 v-4 h-4 v-3 h4 z" fill="#20d030" stroke="#108818" stroke-width="1"/>
<polygon points="520,8 525,8 522.5,11" fill="#000"/>
<circle cx="544" cy="9" r="6.8" fill="#ffffff" stroke="#1478d8" stroke-width="2.6"/>
<circle cx="544" cy="9" r="8.1" fill="none" stroke="#0a4c9c" stroke-width="0.7"/>
<path d="M543.5,4 V9.5 H547" fill="none" stroke="#202020" stroke-width="1"/>
<rect x="548.9" y="8.6" width="0.8" height="0.8" fill="#808080"/>
<rect x="548.2" y="11.2" width="0.8" height="0.8" fill="#808080"/>
<rect x="546.2" y="13.2" width="0.8" height="0.8" fill="#808080"/>
<rect x="543.6" y="13.9" width="0.8" height="0.8" fill="#808080"/>
<rect x="541.0" y="13.2" width="0.8" height="0.8" fill="#808080"/>
<rect x="539.0" y="11.2" width="0.8" height="0.8" fill="#808080"/>
<rect x="538.3" y="8.6" width="0.8" height="0.8" fill="#808080"/>
<rect x="539.0" y="6.0" width="0.8" height="0.8" fill="#808080"/>
<rect x="541.0" y="4.0" width="0.8" height="0.8" fill="#808080"/>
<rect x="543.6" y="3.3" width="0.8" height="0.8" fill="#808080"/>
<rect x="546.2" y="4.0" width="0.8" height="0.8" fill="#808080"/>
<rect x="548.2" y="5.9" width="0.8" height="0.8" fill="#808080"/>
<polygon points="559,8 564,8 561.5,11" fill="#000"/>
<rect x="575.5" y="2.5" width="15" height="13" fill="#3a80d0" stroke="#2a68b8" stroke-width="1"/>
<rect x="577" y="5" width="12" height="4" fill="#ffffff"/>
<rect x="577" y="10.5" width="12" height="4" fill="#ffffff"/>
<polyline points="577.5,8 580,8 582,6.5 584,7.5 586,7.5 588.5,6" fill="none" stroke="#a02010" stroke-width="1"/>
<polyline points="577.5,13.5 580,12.5 582,13.5 585,11 588.5,14" fill="none" stroke="#10a030" stroke-width="1"/>
<polygon points="598,8 603,8 600.5,11" fill="#000"/>
<rect x="609" y="0" width="1" height="21" fill="#a0a0a0"/>
<rect x="610" y="0" width="1" height="21" fill="#ffffff"/>
<rect x="613" y="1" width="3" height="1" fill="#a8a8a8"/>
<rect x="613" y="3" width="3" height="1" fill="#a8a8a8"/>
<rect x="613" y="5" width="3" height="1" fill="#a8a8a8"/>
<rect x="613" y="7" width="3" height="1" fill="#a8a8a8"/>
<rect x="613" y="9" width="3" height="1" fill="#a8a8a8"/>
<rect x="613" y="11" width="3" height="1" fill="#a8a8a8"/>
<rect x="613" y="13" width="3" height="1" fill="#a8a8a8"/>
<rect x="613" y="15" width="3" height="1" fill="#a8a8a8"/>
<rect x="613" y="17" width="3" height="1" fill="#a8a8a8"/>
<rect x="619" y="0" width="1" height="19" fill="#a0a0a0"/>
<rect x="620" y="0" width="24" height="19" fill="url(#chk)"/>
<rect x="620" y="19" width="25" height="1" fill="#ffffff"/>
<rect x="644" y="0" width="1" height="19" fill="#ffffff"/>
<polygon points="627,2 635,9.5 631.5,10 633.8,15.3 632,16 629.8,10.8 627,13.5" fill="#505050"/>
<rect x="659" y="2" width="1" height="6" fill="#505050"/>
<rect x="659" y="11" width="1" height="6" fill="#505050"/>
<rect x="652" y="9" width="6" height="1" fill="#505050"/>
<rect x="661" y="9" width="6" height="1" fill="#505050"/>
<rect x="659" y="9" width="1" height="1" fill="#909090"/>
<rect x="676" y="0" width="1" height="19" fill="#a0a0a0"/>
<rect x="693" y="3" width="1.2" height="13" fill="#505050"/>
<rect x="716" y="9" width="12" height="1.2" fill="#505050"/>
<line x1="744" y1="15.7" x2="756" y2="4" stroke="#505050" stroke-width="1.1"/>
<g stroke="#505050" stroke-width="1"><line x1="770" y1="11" x2="778.5" y2="3"/><line x1="771" y1="14.5" x2="782" y2="4"/><line x1="775" y1="15.5" x2="784" y2="7.5"/><line x1="772.5" y1="6" x2="772.5" y2="15"/><line x1="776" y1="5" x2="776" y2="13"/><line x1="781.5" y1="1" x2="781.5" y2="9"/></g>
<text x="781" y="17.5" font-size="7" font-weight="bold" fill="#404040">E</text>
<line x1="799" y1="2.5" x2="812" y2="2.5" stroke="#404040" stroke-width="1" stroke-dasharray="1,1"/>
<line x1="799" y1="5.5" x2="812" y2="5.5" stroke="#404040" stroke-width="1" stroke-dasharray="1,1"/>
<line x1="799" y1="9.5" x2="812" y2="9.5" stroke="#404040" stroke-width="1" stroke-dasharray="1,1"/>
<line x1="799" y1="13.5" x2="808" y2="13.5" stroke="#404040" stroke-width="1" stroke-dasharray="1,1"/>
<text x="808.5" y="18" font-size="7" font-weight="bold" fill="#404040">F</text>
<text x="829.5" y="14" font-size="12" fill="#505050" font-weight="bold">A</text>
<rect x="857" y="3" width="1" height="1" fill="#505050"/>
<rect x="857" y="15" width="1" height="1" fill="#505050"/>
<rect x="859" y="3" width="1" height="1" fill="#505050"/>
<rect x="859" y="15" width="1" height="1" fill="#505050"/>
<rect x="861" y="3" width="1" height="1" fill="#505050"/>
<rect x="861" y="15" width="1" height="1" fill="#505050"/>
<rect x="863" y="3" width="1" height="1" fill="#505050"/>
<rect x="863" y="15" width="1" height="1" fill="#505050"/>
<rect x="865" y="3" width="1" height="1" fill="#505050"/>
<rect x="865" y="15" width="1" height="1" fill="#505050"/>
<rect x="867" y="3" width="1" height="1" fill="#505050"/>
<rect x="867" y="15" width="1" height="1" fill="#505050"/>
<rect x="856" y="5" width="1" height="1" fill="#505050"/>
<rect x="867" y="5" width="1" height="1" fill="#505050"/>
<rect x="856" y="7" width="1" height="1" fill="#505050"/>
<rect x="867" y="7" width="1" height="1" fill="#505050"/>
<rect x="856" y="9" width="1" height="1" fill="#505050"/>
<rect x="867" y="9" width="1" height="1" fill="#505050"/>
<rect x="856" y="11" width="1" height="1" fill="#505050"/>
<rect x="867" y="11" width="1" height="1" fill="#505050"/>
<rect x="856" y="13" width="1" height="1" fill="#505050"/>
<rect x="867" y="13" width="1" height="1" fill="#505050"/>
<text x="858.3" y="13.8" font-size="11" fill="#505050" font-weight="bold">T</text>
<rect x="855" y="2" width="2" height="1" fill="#505050"/>
<polygon points="883,6.5 886.5,3 890,6.5 888,7.5 885,7.5" fill="#505050"/>
<polyline points="885,10.5 887.5,12.5 891.5,7.5" fill="none" stroke="#505050" stroke-width="1.3"/>
<polygon points="890,12 897,12 893.5,16" fill="#505050"/>
<polygon points="904,8 909,8 906.5,11" fill="#000"/>
<rect x="915" y="0" width="1" height="21" fill="#a0a0a0"/>
<rect x="916" y="0" width="1" height="21" fill="#ffffff"/>
<rect x="919" y="1" width="3" height="1" fill="#a8a8a8"/>
<rect x="919" y="3" width="3" height="1" fill="#a8a8a8"/>
<rect x="919" y="5" width="3" height="1" fill="#a8a8a8"/>
<rect x="919" y="7" width="3" height="1" fill="#a8a8a8"/>
<rect x="919" y="9" width="3" height="1" fill="#a8a8a8"/>
<rect x="919" y="11" width="3" height="1" fill="#a8a8a8"/>
<rect x="919" y="13" width="3" height="1" fill="#a8a8a8"/>
<rect x="919" y="15" width="3" height="1" fill="#a8a8a8"/>
<rect x="919" y="17" width="3" height="1" fill="#a8a8a8"/>
<rect x="1065" y="0" width="1" height="19" fill="#a0a0a0"/>
<rect x="1066" y="0" width="24" height="19" fill="url(#chk)"/>
<rect x="1066" y="19" width="25" height="1" fill="#ffffff"/>
<rect x="1090" y="0" width="1" height="19" fill="#ffffff"/>
<text x="931" y="13" font-size="10" fill="#3c3c3c" textLength="12" lengthAdjust="spacingAndGlyphs">M1</text>
<text x="959" y="13" font-size="10" fill="#3c3c3c" textLength="12.5" lengthAdjust="spacingAndGlyphs">M5</text>
<text x="984.5" y="13" font-size="10" fill="#3c3c3c" textLength="17.5" lengthAdjust="spacingAndGlyphs">M15</text>
<text x="1013" y="13" font-size="10" fill="#3c3c3c" textLength="17.5" lengthAdjust="spacingAndGlyphs">M30</text>
<text x="1043.5" y="13" font-size="10" fill="#3c3c3c" textLength="11.5" lengthAdjust="spacingAndGlyphs">H1</text>
<text x="1071" y="13" font-size="10" fill="#3c3c3c" textLength="12" lengthAdjust="spacingAndGlyphs">H4</text>
<text x="1099.5" y="13" font-size="10" fill="#3c3c3c" textLength="11.5" lengthAdjust="spacingAndGlyphs">D1</text>
<text x="1127" y="13" font-size="10" fill="#3c3c3c" textLength="14" lengthAdjust="spacingAndGlyphs">W1</text>
<text x="1153.5" y="13" font-size="10" fill="#3c3c3c" textLength="14.5" lengthAdjust="spacingAndGlyphs">MN</text>
<rect x="1176" y="0" width="1" height="21" fill="#a0a0a0"/>
<rect x="1177" y="0" width="1" height="21" fill="#ffffff"/>
<line x1="1643.5" y1="9.5" x2="1640.5" y2="13.5" stroke="#2050c0" stroke-width="2.6" stroke-linecap="round"/>
<circle cx="1646.5" cy="6.3" r="3.7" fill="#ffffff" stroke="#2c68d8" stroke-width="1.5"/>
<ellipse cx="1669.5" cy="11" rx="6" ry="4.6" fill="#e4e6ee" stroke="#b0b0b0" stroke-width="0.8"/>
<polygon points="1665.5,14 1666.5,17.8 1669.5,15" fill="#b8b8b8"/>
<circle cx="1677.4" cy="5.8" r="8.3" fill="url(#badge)"/>
<text x="1673.4" y="11.2" font-size="12" font-weight="bold" style="font-family:'Liberation Sans',sans-serif" fill="#ffffff" textLength="6" lengthAdjust="spacingAndGlyphs">1</text></svg></body></html>
